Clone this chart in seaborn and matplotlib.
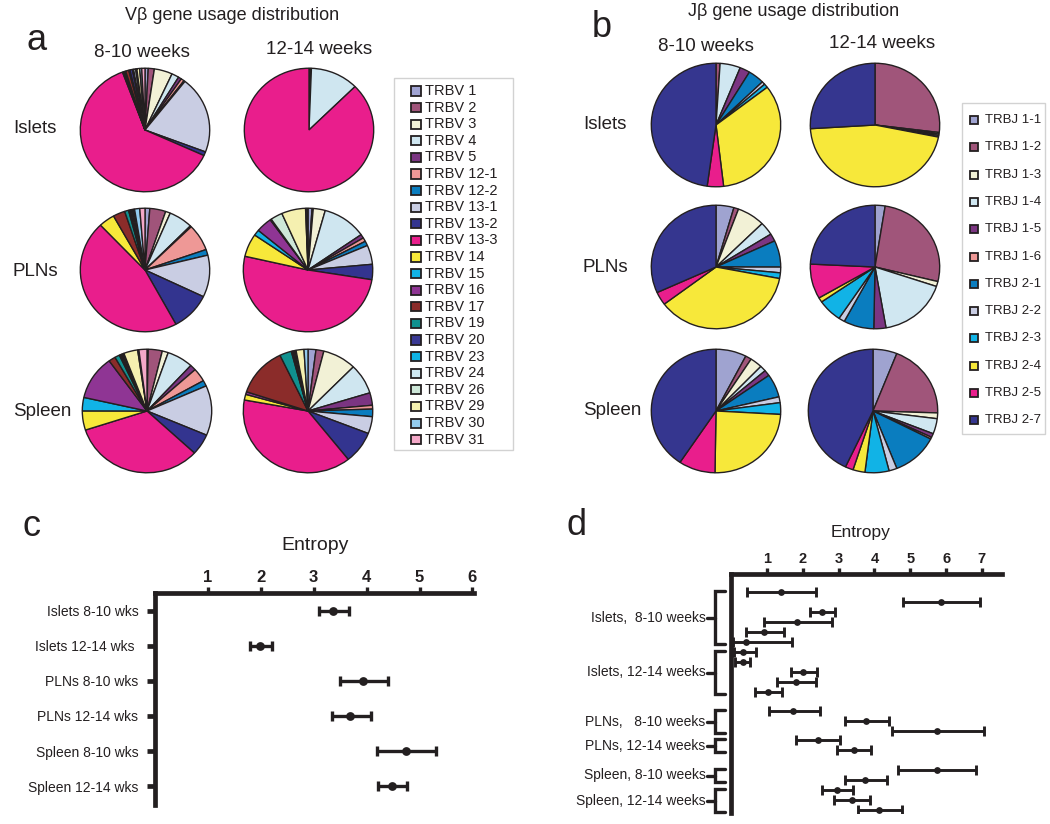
import matplotlib
matplotlib.use("Agg")
import matplotlib.pyplot as plt
from matplotlib.patches import Rectangle
from matplotlib.transforms import blended_transform_factory
import numpy as np
import pandas as pd
import seaborn as sns

# ------------------------------------------------------------------
# data (% of sequences, clockwise from 12 o'clock)
# ------------------------------------------------------------------
v_genes = ["TRBV 1", "TRBV 2", "TRBV 3", "TRBV 4", "TRBV 5", "TRBV 12-1", "TRBV 12-2",
           "TRBV 13-1", "TRBV 13-2", "TRBV 13-3", "TRBV 14", "TRBV 15", "TRBV 16", "TRBV 17",
           "TRBV 19", "TRBV 20", "TRBV 23", "TRBV 24", "TRBV 26", "TRBV 29", "TRBV 30", "TRBV 31"]
v_colors = ["#a0a3d2", "#a0547a", "#f2f1d6", "#cfe6f0", "#7b3582", "#ee9896", "#0a7dbf",
            "#c9cde3", "#33348f", "#e91e8c", "#f7e83a", "#11b3e6", "#8f3594", "#8b2c2a",
            "#10918f", "#3a3994", "#0fb3e5", "#cfe8f2", "#cde7d8", "#f5f0b0", "#93cbee", "#f4a8c8"]

v_islets_810 = [0.8, 1.5, 4.5, 1.8, 0.8, 0.8, 0.3, 20, 1.0, 62, 0.3, 0.2, 0.3, 0.8,
                0.3, 0.6, 0.3, 0.5, 0.3, 0.7, 0.5, 0.8]
v_islets_1214 = [0.3, 0, 0.3, 12, 0, 0, 0, 0, 0, 87.4, 0, 0, 0, 0,
                 0, 0, 0, 0, 0, 0, 0, 0]
v_plns_810 = [1.2, 4, 1.2, 6, 0.3, 7, 1.5, 11, 10, 46, 4, 0, 0, 3,
              1, 0.3, 0.3, 0.3, 0.3, 0.3, 1.3, 1.3]
v_plns_1214 = [1, 0.3, 3, 11, 1, 1, 1.2, 5, 4, 51, 6, 1.5, 4, 0,
               0, 0, 0, 0.3, 3, 6, 0.3, 0.3]
v_spleen_810 = [0.3, 3.5, 1.5, 6.5, 1.5, 3.5, 1.5, 13, 5.5, 33, 5, 3.5, 11.5, 1.7,
                1.2, 0.3, 0.3, 0.3, 0.3, 3.5, 0.3, 2]
v_spleen_1214 = [2, 2, 8.5, 8, 3.3, 1, 2, 4.5, 8.5, 39, 1.5, 0, 0.7, 13,
                 3, 0.3, 0.3, 0.3, 0.3, 2, 1, 0]

j_genes = ["TRBJ 1-1", "TRBJ 1-2", "TRBJ 1-3", "TRBJ 1-4", "TRBJ 1-5", "TRBJ 1-6",
           "TRBJ 2-1", "TRBJ 2-2", "TRBJ 2-3", "TRBJ 2-4", "TRBJ 2-5", "TRBJ 2-7"]
j_colors = ["#9fa3d0", "#a0557a", "#f2f1d6", "#d0e7f1", "#7b3582", "#ee9896",
            "#0a7dbf", "#c9cde3", "#11b3e6", "#f7e83a", "#e91e8c", "#35368f"]

j_islets_810 = [0, 1, 0, 5, 2.5, 0, 4, 0.8, 1, 33, 4, 47]
j_islets_1214 = [0, 27, 0.4, 0.4, 0, 0, 0, 0.4, 0, 46, 0, 26]
j_plns_810 = [4.5, 1.2, 7, 3.5, 2, 0, 7, 1.5, 1.5, 37, 3.5, 32]
j_plns_1214 = [2.5, 26, 1.3, 17, 3, 0, 7.5, 1.5, 6, 1.2, 9, 24]
j_spleen_810 = [7.5, 1.5, 3, 1.5, 1.5, 0, 6, 1.5, 3, 24, 9, 40]
j_spleen_1214 = [6, 19.5, 1.5, 4, 1, 0.5, 11.5, 2, 6, 3, 2, 43]

# panel c: V beta entropy (mean and error range)
c_labels = ["Islets 8-10 wks", "Islets 12-14 wks ", "PLNs 8-10 wks", "PLNs 12-14 wks",
            "Spleen 8-10 wks", "Spleen 12-14 wks"]
c_mean = [3.37, 1.99, 3.94, 3.69, 4.74, 4.48]
c_low = [3.10, 1.80, 3.49, 3.34, 4.19, 4.21]
c_high = [3.66, 2.21, 4.41, 4.08, 5.32, 4.77]

# panel d: J beta entropy per mouse
d_groups = ["Islets,  8-10 weeks", "Islets, 12-14 weeks", "PLNs,   8-10 weeks",
            "PLNs, 12-14 weeks", "Spleen, 8-10 weeks", "Spleen, 12-14 weeks"]
d_group_size = [6, 5, 3, 2, 2, 3]
d_mean = [1.40, 5.87, 2.53, 1.84, 0.93, 0.42,
          0.33, 0.33, 2.02, 1.82, 1.02,
          1.74, 3.77, 5.74,
          2.42, 3.42,
          5.74, 3.74,
          2.95, 3.37, 4.12]
d_low = [0.45, 4.80, 2.19, 0.91, 0.42, 0.05,
         0.07, 0.12, 1.67, 1.28, 0.66,
         1.05, 3.17, 4.49,
         1.82, 2.97,
         4.67, 3.17,
         2.53, 2.88, 3.53]
d_high = [2.38, 6.95, 2.89, 2.81, 1.47, 1.70,
          0.70, 0.53, 2.40, 2.38, 1.42,
          2.47, 4.40, 7.05,
          3.05, 3.90,
          6.84, 4.35,
          3.39, 3.87, 4.77]

# ------------------------------------------------------------------
sns.set_theme(style="white")
plt.rcParams["font.family"] = ["Liberation Sans", "DejaVu Sans"]
INK = "#231f20"
plt.rcParams["text.color"] = INK

W, H = 1050, 824
fig = plt.figure(figsize=(W / 100, H / 100), dpi=100)


def box(x0, y0, x1, y1):
    # axes from pixel corners (origin top-left)
    return fig.add_axes([x0 / W, 1 - y1 / H, (x1 - x0) / W, (y1 - y0) / H])


def txt(x, y, s, **kw):
    fig.text(x / W, 1 - y / H, s, **kw)


def rect(x0, y0, x1, y1, **kw):
    fig.patches.append(Rectangle((x0 / W, 1 - y1 / H), (x1 - x0) / W, (y1 - y0) / H,
                                 transform=fig.transFigure, figure=fig, **kw))


def pie(cx, cy, vals, colors):
    ax = box(cx - 66, cy - 63, cx + 66, cy + 63)
    keep = [i for i, v in enumerate(vals) if v > 0]
    ax.pie([vals[i] for i in keep], colors=[colors[i] for i in keep],
           startangle=90, counterclock=False,
           wedgeprops=dict(edgecolor=INK, linewidth=1.0))
    ax.set_aspect("auto")
    ax.set_xlim(-1.02, 1.02)
    ax.set_ylim(-1.02, 1.02)
    ax.axis("off")


def legend_box(frame, names, colors, y_first, step, sq, text_x, size):
    # frame: (x0, y0, x1, y1) px; sq: (x0, width, height) px
    rect(*frame, fill=False, edgecolor="#d2d2d2", linewidth=1.0)
    for i, (n, c) in enumerate(zip(names, colors)):
        yc = y_first + i * step
        rect(sq[0], yc - sq[2] / 2, sq[0] + sq[1], yc + sq[2] / 2,
             facecolor=c, edgecolor=INK, linewidth=1.3)
        txt(text_x, yc, n, ha="left", va="center", fontsize=size)


# ---------------- panel a ----------------
txt(232, 15, "V\u03b2 gene usage distribution", ha="center", va="center", fontsize=13)
txt(37, 50, "a", ha="center", va="baseline", fontsize=26)
txt(142, 57, "8-10 weeks", ha="center", va="baseline", fontsize=13.5)
txt(319, 54, "12-14 weeks", ha="center", va="baseline", fontsize=13.5)
txt(13, 133, "Islets", ha="left", va="baseline", fontsize=13.5)
txt(13, 276, "PLNs", ha="left", va="baseline", fontsize=13.5)
txt(13, 416, "Spleen", ha="left", va="baseline", fontsize=13.5)

pie(145, 130, v_islets_810, v_colors)
pie(309, 130, v_islets_1214, v_colors)
pie(145, 270, v_plns_810, v_colors)
pie(308, 270, v_plns_1214, v_colors)
pie(147, 411, v_spleen_810, v_colors)
pie(308, 411, v_spleen_1214, v_colors)

legend_box((394, 78, 513, 450), v_genes, v_colors, 91, 16.6, (411, 10, 9), 425, 10.5)

# ---------------- panel b ----------------
txt(794, 12, "J\u03b2 gene usage distribution", ha="center", va="center", fontsize=13)
txt(602, 37, "b", ha="center", va="baseline", fontsize=26)
txt(706, 51, "8-10 weeks", ha="center", va="baseline", fontsize=13.5)
txt(882, 48, "12-14 weeks", ha="center", va="baseline", fontsize=13.5)
txt(583, 129, "Islets", ha="left", va="baseline", fontsize=13.5)
txt(583, 272, "PLNs", ha="left", va="baseline", fontsize=13.5)
txt(583, 415, "Spleen", ha="left", va="baseline", fontsize=13.5)

pie(716, 125, j_islets_810, j_colors)
pie(875, 125, j_islets_1214, j_colors)
pie(716, 267, j_plns_810, j_colors)
pie(875, 267, j_plns_1214, j_colors)
pie(716, 411, j_spleen_810, j_colors)
pie(873, 411, j_spleen_1214, j_colors)

legend_box((962, 103, 1045, 434), j_genes, j_colors, 120, 27.3, (970, 8, 8), 985, 9.5)


# ---------------- entropy axes helper ----------------
def entropy_axes(ax, xmax, ticklab_size):
    sns.despine(ax=ax, top=False, left=False, right=True, bottom=True)
    for s in ["top", "left"]:
        ax.spines[s].set_linewidth(3.4)
        ax.spines[s].set_color(INK)
        ax.spines[s].set_capstyle("projecting")
    ax.xaxis.tick_top()
    ax.set_xlim(0, xmax)
    ax.set_xticks(range(1, int(xmax) + 1))
    ax.tick_params(axis="x", direction="out", length=4.5, width=2.4, color=INK,
                   labelsize=ticklab_size, pad=1.5, labelcolor=INK)
    for t in ax.get_xticklabels():
        t.set_fontweight("bold")
    ax.set_facecolor("none")
    ax.grid(False)


# ---------------- panel c ----------------
txt(32, 536, "c", ha="center", va="baseline", fontsize=26)
txt(315, 545, "Entropy", ha="center", va="center", fontsize=14)

c_df = pd.DataFrame({"label": c_labels, "mean": c_mean, "low": c_low, "high": c_high})
c_df["row"] = np.arange(len(c_df))

axc = box(155, 593, 474, 805)
axc.errorbar(c_df["mean"], c_df["row"],
             xerr=[c_df["mean"] - c_df["low"], c_df["high"] - c_df["mean"]],
             fmt="none", ecolor=INK, elinewidth=2.4, capsize=3.6, capthick=2.4)
sns.scatterplot(data=c_df, x="mean", y="row", ax=axc, color=INK, s=40,
                edgecolor=INK, linewidth=0, zorder=3)
axc.set_ylim(5.54, -0.51)
entropy_axes(axc, 6.03, 12)
axc.set_yticks(c_df["row"])
axc.set_yticklabels(c_labels, fontsize=10)
axc.tick_params(axis="y", direction="out", length=6, width=3.4, color=INK, pad=6,
                labelcolor=INK, left=True)
axc.set_xlabel("")
axc.set_ylabel("")

# ---------------- panel d ----------------
txt(577, 535, "d", ha="center", va="baseline", fontsize=26)
txt(861, 533, "Entropy", ha="center", va="center", fontsize=12.5)

group_gap = [1.0, 1.9, 0.9, 2.0, 1.0]   # layout: vertical spacing between groups
rows, gid = [], []
y = 0.0
for g, n in enumerate(d_group_size):
    if g > 0:
        y += group_gap[g - 1]
    for k in range(n):
        rows.append(y)
        gid.append(g)
        if k < n - 1:
            y += 1.0

d_df = pd.DataFrame({"mean": d_mean, "low": d_low, "high": d_high, "row": rows, "group": gid})

axd = box(731, 574, 1002, 813)
axd.errorbar(d_df["mean"], d_df["row"],
             xerr=[d_df["mean"] - d_df["low"], d_df["high"] - d_df["mean"]],
             fmt="none", ecolor=INK, elinewidth=2.1, capsize=3.8, capthick=2.1)
sns.scatterplot(data=d_df, x="mean", y="row", ax=axd, color=INK, s=24,
                edgecolor=INK, linewidth=0, zorder=3)
axd.set_ylim(22.1, -1.8)
entropy_axes(axd, 7.56, 10.5)
axd.set_yticks([])
axd.set_xlabel("")
axd.set_ylabel("")

tr = blended_transform_factory(axd.transAxes, axd.transData)
for g, name in enumerate(d_groups):
    r = d_df.loc[d_df["group"] == g, "row"]
    top, bot = r.min() - 0.1, r.max() + 0.2
    mid = (top + bot) / 2
    axd.plot([-0.022, -0.059, -0.059, -0.022], [top, top, bot, bot], transform=tr,
             color=INK, lw=2.4, clip_on=False, solid_joinstyle="miter")
    axd.plot([-0.089, -0.059], [mid, mid], transform=tr, color=INK, lw=2.4, clip_on=False)
    axd.text(-0.094, mid, name, transform=tr, ha="right", va="center", fontsize=10)

fig.savefig("out.png", dpi=100)
